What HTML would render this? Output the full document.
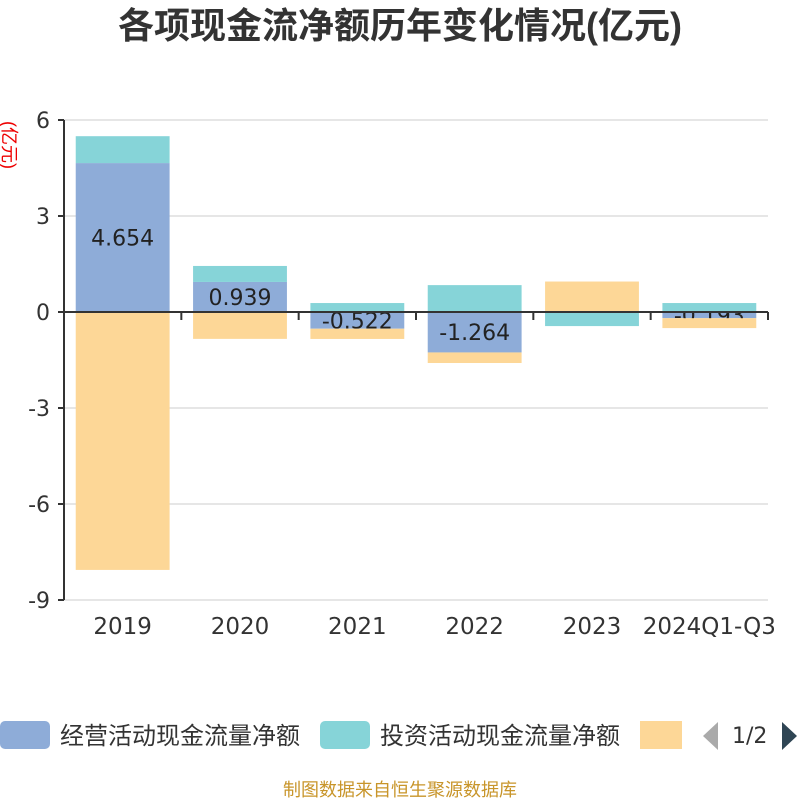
<!DOCTYPE html>
<html><head><meta charset="utf-8"><style>
body{margin:0;width:800px;height:800px;background:#fff;overflow:hidden;font-family:"DejaVu Sans","Noto Sans CJK SC",sans-serif;}
</style></head><body>
<svg id="c" width="800" height="800" xmlns="http://www.w3.org/2000/svg" font-family="DejaVu Sans,Noto Sans CJK SC,sans-serif">
<text x="400" y="38" text-anchor="middle" font-size="36" font-weight="bold" fill="#333" font-family="Liberation Sans,Noto Sans CJK SC,sans-serif">各项现金流净额历年变化情况(亿元)</text>
<text transform="translate(3,145) rotate(90)" text-anchor="middle" font-size="18" fill="#e00" font-family="Liberation Sans,Noto Sans CJK SC,sans-serif">(亿元)</text>
<g id="grid"></g><g id="bars"></g><g id="axes"></g>
<g font-family="Liberation Sans,Noto Sans CJK SC,sans-serif" font-size="24" fill="#333">
<rect x="0" y="721" width="50" height="28" rx="5" fill="#8eacd8"/>
<text x="60" y="744">经营活动现金流量净额</text>
<rect x="320" y="721" width="50" height="28" rx="5" fill="#86d4d8"/>
<text x="380" y="744">投资活动现金流量净额</text>
<rect x="640" y="721" width="42" height="28" fill="#fdd797"/>
<polygon points="718,722 718,750 703,736" fill="#aaa"/>
<text x="732" y="743" font-size="22" font-family="DejaVu Sans,sans-serif">1/2</text>
<polygon points="782,722 782,750 797,736" fill="#2f4554"/>
</g>
<text x="400" y="796" text-anchor="middle" font-size="18" fill="#c8952a" font-family="Liberation Sans,Noto Sans CJK SC,sans-serif">制图数据来自恒生聚源数据库</text>
</svg>
<script>
const categories=["2019","2020","2021","2022","2023","2024Q1-Q3"];
const operating=[4.654,0.939,-0.522,-1.264,0.012,-0.193];
const investing=[0.84,0.50,0.28,0.84,-0.44,0.28];
const financing=[-8.06,-0.84,-0.32,-0.33,0.94,-0.31];
const yTicks=[6,3,0,-3,-6,-9];
const NS="http://www.w3.org/2000/svg";
const L=64,R=768,T=120,B=600,yMax=6,yMin=-9;
const y=v=>T+(yMax-v)/(yMax-yMin)*(B-T);
const bw=(R-L)/categories.length;
const xc=i=>L+bw*(i+0.5);
function mk(tag,attrs,parent){const e=document.createElementNS(NS,tag);for(const k in attrs)e.setAttribute(k,attrs[k]);document.getElementById(parent).appendChild(e);return e;}
yTicks.forEach(t=>{
 const g=mk('line',{x1:L,x2:R,y1:y(t),y2:y(t),stroke:t===0?'none':'#ccc','stroke-width':1},'grid');
 
 
 const tx=mk('text',{x:L-14,y:y(t)+8,'text-anchor':'end','font-size':22,fill:'#333'},'axes');
 tx.textContent=t;
 
 
 const tk=mk('line',{x1:L-6,x2:L,y1:y(t),y2:y(t),stroke:'#333','stroke-width':2},'axes');
 
 
});
const ya=mk('line',{x1:L,x2:L,y1:T,y2:B,stroke:'#333','stroke-width':2},'axes');


const xa=mk('line',{x1:L,x2:R,y1:y(0),y2:y(0),stroke:'#333','stroke-width':2},'axes');


for(let i=0;i<=categories.length;i++){
 const tk=mk('line',{x1:L+bw*i,x2:L+bw*i,y1:y(0),y2:y(0)+8,stroke:'#333','stroke-width':2},'axes');
 
 
}
categories.forEach((c,i)=>{
 const tx=mk('text',{x:xc(i),y:634,'text-anchor':'middle','font-size':23,fill:'#333'},'axes');
 tx.textContent=c;
 
 
});
const series=[[operating,'#8eacd8','operating'],[investing,'#86d4d8','investing'],[financing,'#fdd797','financing']];
const pos=categories.map(()=>0),neg=categories.map(()=>0);
series.forEach(([vals,col,nm])=>{
 vals.forEach((v,i)=>{
  let a,b;
  if(v>=0){a=pos[i];b=a+v;pos[i]=b;}else{a=neg[i];b=a+v;neg[i]=b;}
  const top=y(Math.max(a,b)),bot=y(Math.min(a,b));
  const r=mk('rect',{x:xc(i)-bw*0.4,y:top,width:bw*0.8,height:bot-top,fill:col},'bars');
  
  
  if(nm==='operating'){
   const tx=mk('text',{x:xc(i),y:(top+bot)/2+8,'text-anchor':'middle','font-size':22,fill:'#222'},'bars');
   tx.textContent=v.toFixed(3);
   
   
  }
 });
});
</script>
</body></html>
